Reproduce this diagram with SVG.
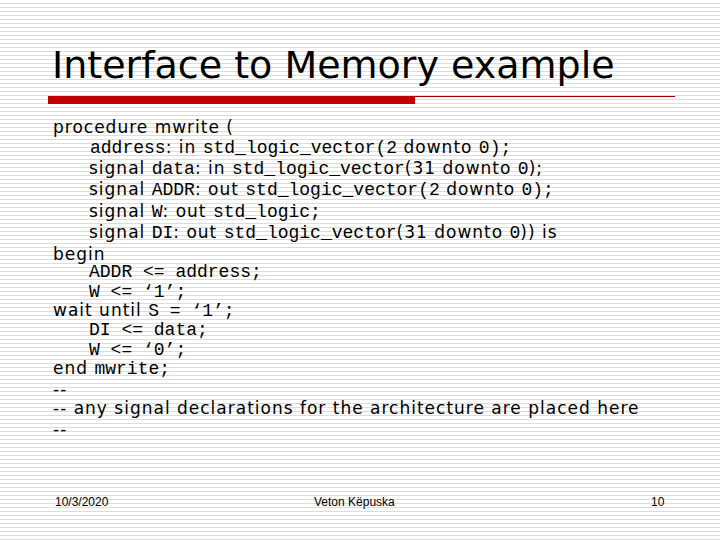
<svg xmlns="http://www.w3.org/2000/svg" width="720" height="540" viewBox="0 0 720 540">
<defs>
<pattern id="g" width="8" height="4" patternUnits="userSpaceOnUse"><rect width="8" height="4" fill="#fff"/><rect y="3" width="8" height="1" fill="#dcdcdc"/></pattern>
<style>
.s{font-family:"DejaVu Sans",Verdana,sans-serif;font-size:17px;letter-spacing:1px;fill:#000}
.m{font-family:"Liberation Mono","Courier New",monospace;font-size:18px;letter-spacing:0}
.f{font-family:"Liberation Sans",Arial,sans-serif;font-size:12px;fill:#000}
</style>
</defs>
<rect width="720" height="540" fill="url(#g)"/>
<text x="52" y="78" style="font-family:'DejaVu Sans',Verdana,sans-serif;font-size:38px">Interface to Memory example</text>
<rect x="48" y="96" width="367" height="8" fill="#c00000"/>
<line x1="415" y1="96.5" x2="675" y2="96.5" stroke="#a00000" stroke-width="1"/>
<text class="s" x="53" y="133">procedure mwrite (</text>
<text class="s" x="90" y="153"><tspan class="m">address</tspan>: in <tspan class="m">std_logic_vector(2</tspan> downto <tspan class="m">0);</tspan></text>
<text class="s" x="89" y="174">signal <tspan class="m">data</tspan>: in <tspan class="m">std_logic_vector</tspan>(31 downto <tspan class="m">0</tspan>);</text>
<text class="s" x="89" y="195">signal <tspan class="m">ADDR</tspan>: out <tspan class="m">std_logic_vector(2</tspan> downto <tspan class="m">0);</tspan></text>
<text class="s" x="89" y="217">signal <tspan class="m">W</tspan>: out <tspan class="m">std_logic;</tspan></text>
<text class="s" x="89" y="238">signal <tspan class="m">DI</tspan>: out <tspan class="m">std_logic_vector</tspan>(31 downto <tspan class="m">0</tspan>)) is</text>
<text class="s" x="53" y="260">begin</text>
<text class="s m" x="89" y="277">ADDR &lt;= address;</text>
<text class="s m" x="89" y="297">W &lt;= ‘1’;</text>
<text class="s" x="53" y="316">wait until <tspan class="m">S = ‘1’;</tspan></text>
<text class="s m" x="89" y="335">DI &lt;= data;</text>
<text class="s m" x="89" y="355">W &lt;= ‘0’;</text>
<text class="s" x="53" y="374">end <tspan class="m">mwrite;</tspan></text>
<text class="s" x="53" y="395">--</text>
<text class="s" x="53" y="414">-- any signal declarations for the architecture are placed here</text>
<text class="s" x="53" y="435">--</text>
<text class="f" x="55" y="506">10/3/2020</text>
<text class="f" x="314" y="506">Veton Këpuska</text>
<text class="f" x="651" y="506">10</text>
</svg>
